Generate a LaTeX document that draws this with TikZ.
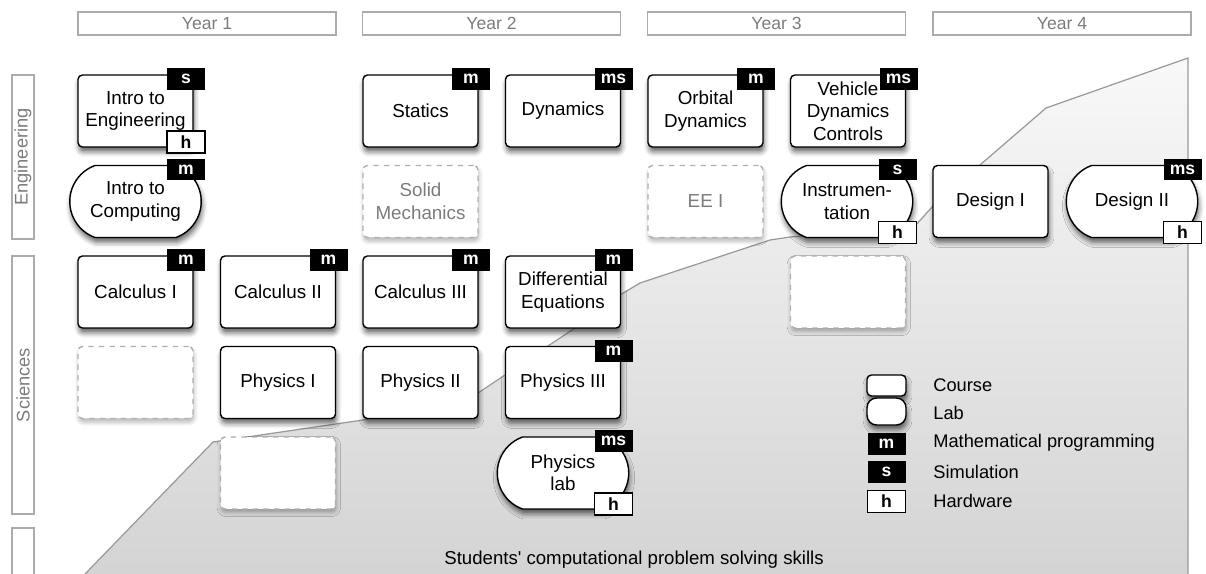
\documentclass[tikz,border=0pt]{standalone}
\usepackage{fontspec}
\setmainfont{Liberation Sans}
\usetikzlibrary{calc,positioning,shapes.misc,shadows.blur}
\definecolor{frame}{HTML}{ABABAB}
\definecolor{muted}{HTML}{7C7C7C}
\definecolor{edge}{HTML}{999999}
\definecolor{dashgray}{HTML}{B0B0B0}

\tikzset{
  box/.style={minimum width=2.3cm,minimum height=1.44cm,inner sep=1pt,align=center,
    font=\fontsize{10.7}{12.8}\selectfont},
  soft/.style={blur shadow={shadow xshift=0.6pt,shadow yshift=-2.8pt,shadow blur radius=2.8pt,shadow opacity=60}},
  course/.style={box,draw,fill=white,rounded corners=2.5pt,line width=0.8pt,soft},
  lab/.style={box,draw,fill=white,line width=0.8pt,soft,rounded rectangle,
    rounded rectangle arc length=140,minimum width=2.7cm},
  blank/.style={box,draw=dashgray,dashed,line width=0.8pt,fill=white,rounded corners=2.5pt,text=muted,
    blur shadow={shadow xshift=0.5pt,shadow yshift=-2pt,shadow blur radius=2.4pt,shadow opacity=30}},
  mtag/.style={fill=black,text=white,minimum width=0.76cm,minimum height=0.44cm,inner sep=0pt,
    font=\fontsize{10}{10}\selectfont\bfseries},
  htag/.style={mtag,fill=white,text=black,draw,line width=0.6pt},
  yearbox/.style={draw=frame,line width=0.7pt,minimum width=5.16cm,minimum height=0.46cm,inner sep=0pt,
    text=muted,font=\fontsize{10}{12}\selectfont},
  sidebox/.style={draw=frame,line width=0.7pt,minimum height=0.44cm,inner sep=0pt,rotate=90,
    text=muted,font=\fontsize{10.4}{12}\selectfont},
  legtxt/.style={anchor=west,inner sep=0pt,font=\fontsize{10.4}{12}\selectfont}
}

\begin{document}
\begin{tikzpicture}[x=0.02cm,y=-0.02cm]
  \useasboundingbox (0,0) rectangle (1206,574);
  % skills area
  \shade[top color=gray!5,middle color=gray!12,bottom color=gray!34]
    (85,574) -- (213,442) -- (363,420) -- (478,393) -- (505,375) -- (548,346) -- (575,328) -- (620,295)
    -- (640,283) -- (770,240) -- (790,237) -- (915,226) -- (933,206) -- (980,165) -- (1046,108)
    -- (1188,58) -- (1188,574) -- cycle;
  \draw[edge,line width=0.7pt] (85,574) -- (213,442) -- (363,420) -- (478,393) -- (505,375) -- (548,346)
    -- (575,328) -- (620,295) -- (640,283) -- (770,240) -- (790,237) -- (915,226) -- (933,206) -- (980,165)
    -- (1046,108) -- (1188,58) -- (1188,574);
  \node[font=\fontsize{10.6}{12}\selectfont] (skills) at (634,560) {Students\textquotesingle{} computational problem solving skills};

  % years and areas
  \foreach \i/\x in {1/207,2/491.5,3/776.5,4/1062} \node[yearbox] (year\i) at (\x,23.5) {Year \i};
  \node[sidebox,minimum width=3.28cm] (eng) at (23,157) {Engineering};
  \node[sidebox,minimum width=5.16cm] (sci) at (23,385) {Sciences};
  \draw[frame,line width=0.7pt] (12,574) -- (12,528) -- (34,528) -- (34,574);

  % engineering
  \node[course] (ieng) at (135.5,111) {Intro to\\Engineering};
  \node[course] (statics) at (420.5,111) {Statics};
  \node[course] (dyn) at (563,111) {Dynamics};
  \node[course] (orbit) at (705.5,111) {Orbital\\Dynamics};
  \node[course] (vdc) at (848,111) {Vehicle\\Dynamics\\Controls};
  \node[lab] (icomp) at (135.5,201.5) {Intro to\\Computing};
  \node[blank] (solid) at (420.5,201.5) {Solid\\Mechanics};
  \node[blank] (eei) at (705.5,201.5) {EE I};
  \node[lab] (instr) at (847,201.5) {Instrumen-\\tation};
  \node[course] (des1) at (990.5,201.5) {Design I};
  \node[lab] (des2) at (1132,201.5) {Design II};

  % sciences
  \node[course] (calc1) at (135.5,292) {Calculus I};
  \node[course] (calc2) at (278,292) {Calculus II};
  \node[course] (calc3) at (420.5,292) {Calculus III};
  \node[course] (diffeq) at (563,292) {Differential\\Equations};
  \node[blank] (open3) at (848,292) {};
  \node[blank] (open1) at (135.5,382.5) {};
  \node[course] (phys1) at (278,382.5) {Physics I};
  \node[course] (phys2) at (420.5,382.5) {Physics II};
  \node[course] (phys3) at (563,382.5) {Physics III};
  \node[blank] (open2) at (278,473) {};
  \node[lab] (physlab) at (563,473) {Physics\\lab};

  % tags
  \foreach \n/\t in {ieng/s,icomp/m,statics/m,dyn/ms,orbit/m,vdc/ms,instr/s,des2/ms,
                     calc1/m,calc2/m,calc3/m,diffeq/m,phys3/m,physlab/ms}
    \node[mtag] (\n-t) at ($(\n.center)+(50.5,-32)$) {\t};
  \foreach \n in {ieng,instr,des2,physlab}
    \node[htag] (\n-h) at ($(\n.center)+(50.5,31)$) {h};

  % legend
  \node[course,minimum width=0.78cm,minimum height=0.42cm] (lgcourse) at (886.5,385.5) {};
  \node[course,minimum width=0.78cm,minimum height=0.54cm,rounded corners=5.5pt] (lglab) at (886.5,411.5) {};
  \node[mtag] (lgm) at (886.5,443.5) {m};
  \node[mtag] (lgs) at (886.5,472) {s};
  \node[htag] (lgh) at (886.5,501.5) {h};
  \node[legtxt] (lgcourse-txt) at (933,385.5) {Course};
  \node[legtxt] (lglab-txt) at (933,413) {Lab};
  \node[legtxt] (lgm-txt) at (933,443) {Mathematical programming};
  \node[legtxt] (lgs-txt) at (933,472) {Simulation};
  \node[legtxt] (lgh-txt) at (933,501) {Hardware};
\end{tikzpicture}
\end{document}
